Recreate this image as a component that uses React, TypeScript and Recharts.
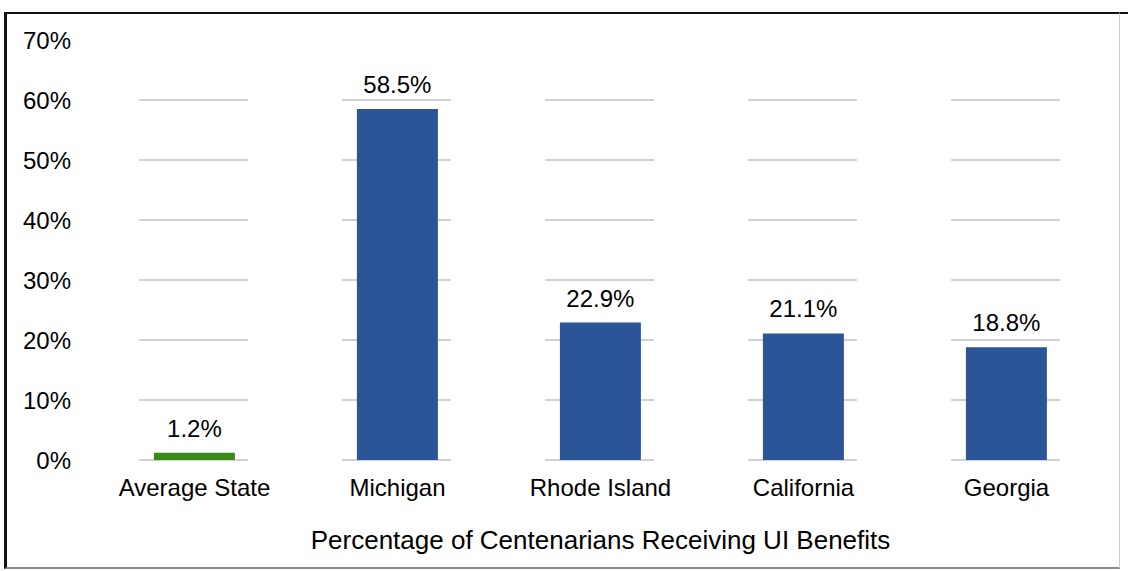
import * as React from 'react'
import {
  BarChart,
  Bar,
  XAxis,
  YAxis,
  CartesianGrid,
  Cell,
  LabelList,
  Label,
} from 'recharts'

const categories = ['Average State', 'Michigan', 'Rhode Island', 'California', 'Georgia']
const shares = [1.2, 58.5, 22.9, 21.1, 18.8]
const barColors = ['#3a8a16', '#2c5598', '#2c5598', '#2c5598', '#2c5598']
const yTicks = [0, 10, 20, 30, 40, 50, 60, 70]
const gridValues = [0, 10, 20, 30, 40, 50, 60]

const FONT = '"Liberation Sans", Arial, sans-serif'

export default function App() {
  const data = categories.map((name, i) => ({ name, value: shares[i] }))

  return (
    <div
      style={{
        position: 'absolute',
        left: 0,
        top: 0,
        width: 1134,
        height: 571,
        background: '#fff',
        fontFamily: FONT,
      }}
    >
      <BarChart
        width={1134}
        height={571}
        data={data}
        margin={{ top: 40, right: 26, bottom: 0, left: 0 }}
        barCategoryGap='30%'
      >
        {/* grid only shows in a strip around each bar, as in the original */}
        <CartesianGrid
          vertical={false}
          horizontalValues={gridValues}
          stroke='#d2d2d2'
          strokeWidth={2}
          strokeDasharray='0 46 109 48'
        />
        <XAxis
          dataKey='name'
          axisLine={false}
          tickLine={false}
          tickSize={0}
          tickMargin={19}
          height={111}
          interval={0}
          tick={{ fill: '#000', fontSize: 24, fontFamily: FONT }}
        >
          <Label
            value='Percentage of Centenarians Receiving UI Benefits'
            position='insideBottom'
            offset={22}
            fill='#000'
            fontSize={26}
            fontFamily={FONT}
          />
        </XAxis>
        <YAxis
          domain={[0, 70]}
          ticks={yTicks}
          width={93}
          axisLine={false}
          tickLine={false}
          tickSize={0}
          tickMargin={22}
          tickFormatter={(v: number) => `${v}%`}
          tick={{ fill: '#000', fontSize: 24, fontFamily: FONT }}
        />
        <Bar dataKey='value' isAnimationActive={false}>
          {data.map((d, i) => (
            <Cell key={d.name} fill={barColors[i]} />
          ))}
          <LabelList
            dataKey='value'
            position='top'
            offset={16}
            formatter={(v: number) => `${v}%`}
            fill='#000'
            fontSize={24}
            fontFamily={FONT}
          />
        </Bar>
      </BarChart>
      <div
        style={{
          position: 'absolute',
          left: 4,
          top: 12,
          width: 1112,
          height: 553,
          borderTop: '2px solid #111',
          borderLeft: '3px solid #111',
          borderRight: '1px solid #ccc',
          borderBottom: '2px solid #888',
          pointerEvents: 'none',
        }}
      />
      <div
        style={{
          position: 'absolute',
          left: 1120,
          top: 12,
          width: 8,
          height: 2,
          background: '#111',
        }}
      />
    </div>
  )
}
